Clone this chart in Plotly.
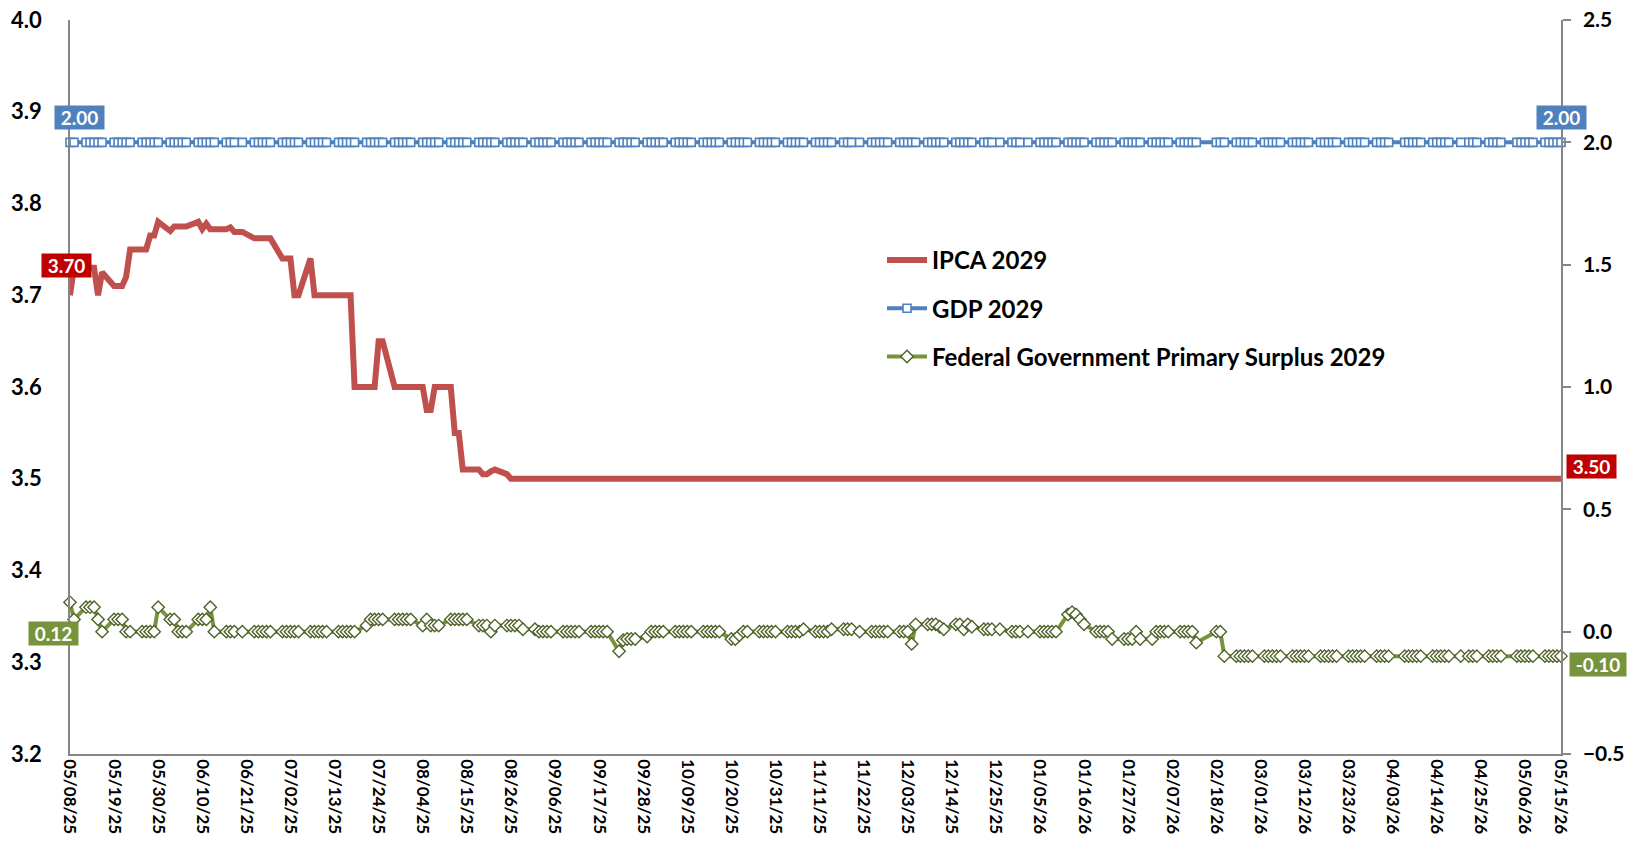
"""Focus 2029: IPCA (left axis), GDP and primary surplus (right axis)."""
import pandas as pd
import plotly.graph_objects as go

# business days of the survey (holidays dropped)
HOLIDAYS = ["2025-06-19", "2025-11-20", "2025-12-25", "2026-01-01",
            "2026-02-16", "2026-02-17", "2026-04-03", "2026-04-21", "2026-05-01"]
dates = pd.bdate_range("2025-05-08", "2026-05-15")
dates = dates[~dates.isin(pd.to_datetime(HOLIDAYS))]

TICK_LABELS = ["05/08/25", "05/19/25", "05/30/25", "06/10/25", "06/21/25", "07/02/25",
               "07/13/25", "07/24/25", "08/04/25", "08/15/25", "08/26/25", "09/06/25",
               "09/17/25", "09/28/25", "10/09/25", "10/20/25", "10/31/25", "11/11/25",
               "11/22/25", "12/03/25", "12/14/25", "12/25/25", "01/05/26", "01/16/26",
               "01/27/26", "02/07/26", "02/18/26", "03/01/26", "03/12/26", "03/23/26",
               "04/03/26", "04/14/26", "04/25/26", "05/06/26", "05/15/26"]

IPCA = [
    3.70, 3.73,                               # 05/08
    3.73, 3.73, 3.73, 3.70, 3.725,            # 05/12
    3.71, 3.71, 3.71, 3.72, 3.75,             # 05/19
    3.75, 3.75, 3.765, 3.765, 3.78,           # 05/26
    3.77, 3.775, 3.775, 3.775, 3.775,         # 06/02
    3.78, 3.772, 3.778, 3.772, 3.772,         # 06/09
    3.772, 3.774, 3.769, 3.769,               # 06/16
    3.762, 3.762, 3.762, 3.762, 3.762,        # 06/23
    3.74, 3.74, 3.74, 3.70, 3.70,             # 06/30
    3.74, 3.70, 3.70, 3.70, 3.70,             # 07/07
    3.70, 3.70, 3.70, 3.70, 3.60,             # 07/14
    3.60, 3.60, 3.60, 3.65, 3.65,             # 07/21
    3.60, 3.60, 3.60, 3.60, 3.60,             # 07/28
    3.60, 3.575, 3.575, 3.60, 3.60,           # 08/04
    3.60, 3.55, 3.55, 3.51, 3.51,             # 08/11
    3.51, 3.505, 3.505, 3.508, 3.51,          # 08/18
    3.505, 3.50, 3.50, 3.50, 3.50,            # 08/25
    3.50, 3.50, 3.50, 3.50, 3.50, 3.50, 3.50, 3.50, 3.50, 3.50,
    3.50, 3.50, 3.50, 3.50, 3.50, 3.50, 3.50, 3.50, 3.50, 3.50,
    3.50, 3.50, 3.50, 3.50, 3.50, 3.50, 3.50, 3.50, 3.50, 3.50,
    3.50, 3.50, 3.50, 3.50, 3.50, 3.50, 3.50, 3.50, 3.50, 3.50,
    3.50, 3.50, 3.50, 3.50, 3.50, 3.50, 3.50, 3.50, 3.50, 3.50,
    3.50, 3.50, 3.50, 3.50, 3.50, 3.50, 3.50, 3.50, 3.50, 3.50,
    3.50, 3.50, 3.50, 3.50, 3.50, 3.50, 3.50, 3.50, 3.50, 3.50,
    3.50, 3.50, 3.50, 3.50, 3.50, 3.50, 3.50, 3.50, 3.50, 3.50,
    3.50, 3.50, 3.50, 3.50, 3.50, 3.50, 3.50, 3.50, 3.50, 3.50,
    3.50, 3.50, 3.50, 3.50, 3.50, 3.50, 3.50, 3.50, 3.50, 3.50,
    3.50, 3.50, 3.50, 3.50, 3.50, 3.50, 3.50, 3.50, 3.50, 3.50,
    3.50, 3.50, 3.50, 3.50, 3.50, 3.50, 3.50, 3.50, 3.50, 3.50,
    3.50, 3.50, 3.50, 3.50, 3.50, 3.50, 3.50, 3.50, 3.50, 3.50,
    3.50, 3.50, 3.50, 3.50, 3.50, 3.50, 3.50, 3.50, 3.50, 3.50,
    3.50, 3.50, 3.50, 3.50, 3.50, 3.50, 3.50, 3.50, 3.50, 3.50,
    3.50, 3.50, 3.50, 3.50, 3.50, 3.50, 3.50, 3.50, 3.50, 3.50,
    3.50, 3.50, 3.50, 3.50, 3.50, 3.50, 3.50, 3.50, 3.50, 3.50,
    3.50, 3.50, 3.50, 3.50, 3.50, 3.50, 3.50,
]

GDP = [
    2.00, 2.00, 2.00, 2.00, 2.00, 2.00, 2.00, 2.00, 2.00, 2.00,
    2.00, 2.00, 2.00, 2.00, 2.00, 2.00, 2.00, 2.00, 2.00, 2.00,
    2.00, 2.00, 2.00, 2.00, 2.00, 2.00, 2.00, 2.00, 2.00, 2.00,
    2.00, 2.00, 2.00, 2.00, 2.00, 2.00, 2.00, 2.00, 2.00, 2.00,
    2.00, 2.00, 2.00, 2.00, 2.00, 2.00, 2.00, 2.00, 2.00, 2.00,
    2.00, 2.00, 2.00, 2.00, 2.00, 2.00, 2.00, 2.00, 2.00, 2.00,
    2.00, 2.00, 2.00, 2.00, 2.00, 2.00, 2.00, 2.00, 2.00, 2.00,
    2.00, 2.00, 2.00, 2.00, 2.00, 2.00, 2.00, 2.00, 2.00, 2.00,
    2.00, 2.00, 2.00, 2.00, 2.00, 2.00, 2.00, 2.00, 2.00, 2.00,
    2.00, 2.00, 2.00, 2.00, 2.00, 2.00, 2.00, 2.00, 2.00, 2.00,
    2.00, 2.00, 2.00, 2.00, 2.00, 2.00, 2.00, 2.00, 2.00, 2.00,
    2.00, 2.00, 2.00, 2.00, 2.00, 2.00, 2.00, 2.00, 2.00, 2.00,
    2.00, 2.00, 2.00, 2.00, 2.00, 2.00, 2.00, 2.00, 2.00, 2.00,
    2.00, 2.00, 2.00, 2.00, 2.00, 2.00, 2.00, 2.00, 2.00, 2.00,
    2.00, 2.00, 2.00, 2.00, 2.00, 2.00, 2.00, 2.00, 2.00, 2.00,
    2.00, 2.00, 2.00, 2.00, 2.00, 2.00, 2.00, 2.00, 2.00, 2.00,
    2.00, 2.00, 2.00, 2.00, 2.00, 2.00, 2.00, 2.00, 2.00, 2.00,
    2.00, 2.00, 2.00, 2.00, 2.00, 2.00, 2.00, 2.00, 2.00, 2.00,
    2.00, 2.00, 2.00, 2.00, 2.00, 2.00, 2.00, 2.00, 2.00, 2.00,
    2.00, 2.00, 2.00, 2.00, 2.00, 2.00, 2.00, 2.00, 2.00, 2.00,
    2.00, 2.00, 2.00, 2.00, 2.00, 2.00, 2.00, 2.00, 2.00, 2.00,
    2.00, 2.00, 2.00, 2.00, 2.00, 2.00, 2.00, 2.00, 2.00, 2.00,
    2.00, 2.00, 2.00, 2.00, 2.00, 2.00, 2.00, 2.00, 2.00, 2.00,
    2.00, 2.00, 2.00, 2.00, 2.00, 2.00, 2.00, 2.00, 2.00, 2.00,
    2.00, 2.00, 2.00, 2.00, 2.00, 2.00, 2.00, 2.00, 2.00, 2.00,
    2.00, 2.00, 2.00, 2.00, 2.00, 2.00, 2.00, 2.00,
]

SURPLUS = [
    0.12, 0.05,                               # 05/08
    0.10, 0.10, 0.10, 0.05, 0.00,             # 05/12
    0.05, 0.05, 0.05, 0.00, 0.00,             # 05/19
    0.00, 0.00, 0.00, 0.00, 0.10,             # 05/26
    0.05, 0.05, 0.00, 0.00, 0.00,             # 06/02
    0.05, 0.05, 0.05, 0.10, 0.00,             # 06/09
    0.00, 0.00, 0.00, 0.00,                   # 06/16
    0.00, 0.00, 0.00, 0.00, 0.00,             # 06/23
    0.00, 0.00, 0.00, 0.00, 0.00,             # 06/30
    0.00, 0.00, 0.00, 0.00, 0.00,             # 07/07
    0.00, 0.00, 0.00, 0.00, 0.00,             # 07/14
    0.025, 0.05, 0.05, 0.05, 0.05,            # 07/21
    0.05, 0.05, 0.05, 0.05, 0.05,             # 07/28
    0.025, 0.05, 0.025, 0.025, 0.025,         # 08/04
    0.05, 0.05, 0.05, 0.05, 0.05,             # 08/11
    0.025, 0.025, 0.025, 0.00, 0.025,         # 08/18
    0.025, 0.025, 0.025, 0.025, 0.01,         # 08/25
    0.01, 0.00, 0.00, 0.00, 0.00,             # 09/01
    0.00, 0.00, 0.00, 0.00, 0.00,             # 09/08
    0.00, 0.00, 0.00, 0.00, 0.00,             # 09/15
    -0.08, -0.035, -0.03, -0.03, -0.03,       # 09/22
    -0.02, 0.00, 0.00, 0.00, 0.00,            # 09/29
    0.00, 0.00, 0.00, 0.00, 0.00,             # 10/06
    0.00, 0.00, 0.00, 0.00, 0.00,             # 10/13
    -0.03, -0.03, -0.015, 0.00, 0.00,         # 10/20
    0.00, 0.00, 0.00, 0.00, 0.00,             # 10/27
    0.00, 0.00, 0.00, 0.00, 0.01,             # 11/03
    0.00, 0.00, 0.00, 0.00, 0.01,             # 11/10
    0.01, 0.01, 0.01, 0.00,                   # 11/17
    0.00, 0.00, 0.00, 0.00, 0.00,             # 11/24
    0.00, 0.00, 0.00, -0.05, 0.03,            # 12/01
    0.03, 0.03, 0.03, 0.02, 0.01,             # 12/08
    0.03, 0.03, 0.01, 0.03, 0.02,             # 12/15
    0.01, 0.01, 0.01, 0.01,                   # 12/22
    0.00, 0.00, 0.00, 0.00,                   # 12/29
    0.00, 0.00, 0.00, 0.00, 0.00,             # 01/05
    0.07, 0.08, 0.07, 0.05, 0.03,             # 01/12
    0.00, 0.00, 0.00, 0.00, -0.03,            # 01/19
    -0.03, -0.03, -0.03, 0.00, -0.03,         # 01/26
    -0.03, 0.00, 0.00, 0.00, 0.00,            # 02/02
    0.00, 0.00, 0.00, 0.00, -0.045,           # 02/09
    0.00, 0.00, -0.10,                        # 02/18
    -0.10, -0.10, -0.10, -0.10, -0.10, -0.10, -0.10, -0.10, -0.10, -0.10,
    -0.10, -0.10, -0.10, -0.10, -0.10, -0.10, -0.10, -0.10, -0.10, -0.10,
    -0.10, -0.10, -0.10, -0.10, -0.10, -0.10, -0.10, -0.10, -0.10, -0.10,
    -0.10, -0.10, -0.10, -0.10, -0.10, -0.10, -0.10, -0.10, -0.10, -0.10,
    -0.10, -0.10, -0.10, -0.10, -0.10, -0.10, -0.10, -0.10, -0.10, -0.10,
    -0.10, -0.10, -0.10, -0.10, -0.10, -0.10, -0.10,
]

assert len(IPCA) == len(GDP) == len(SURPLUS) == len(dates)

RED, RED_BOX = "#C0504D", "#C00000"
BLUE = "#4F81BD"
GREEN, GREEN_DARK = "#77933C", "#4F6228"
AXIS = "#868686"
FONT = "Lato"

tickvals = pd.to_datetime(TICK_LABELS, format="%m/%d/%y")

fig = go.Figure()
fig.add_trace(go.Scatter(
    x=dates, y=IPCA, name="IPCA 2029", mode="lines", legendgroup="a",
    line=dict(color=RED, width=6), cliponaxis=False,
))
fig.add_trace(go.Scatter(
    x=dates, y=GDP, name="GDP 2029", mode="lines+markers", yaxis="y2", legendgroup="b",
    line=dict(color=BLUE, width=4),
    marker=dict(symbol="square", size=8, color="white", line=dict(color=BLUE, width=1.6)),
    cliponaxis=False,
))
fig.add_trace(go.Scatter(
    x=dates, y=SURPLUS, name="Federal Government Primary Surplus 2029",
    mode="lines+markers", yaxis="y2", legendgroup="c",
    line=dict(color=GREEN, width=4),
    marker=dict(symbol="diamond", size=9.5, color="white", line=dict(color=GREEN_DARK, width=1.4)),
    cliponaxis=False,
))


def label(x, y, yref, text, bg, dx, dy, w=49):
    fig.add_annotation(
        x=x, y=y, yref=yref, text=f"<b>{text}</b>", showarrow=False,
        xshift=dx, yshift=dy, bgcolor=bg, width=w, height=23, borderpad=0,
        font=dict(family=FONT, size=19, color="white"),
    )


first, last = dates[0], dates[-1]
label(first, IPCA[0], "y", f"{IPCA[0]:.2f}", RED_BOX, -4, 30)
label(first, GDP[0], "y2", f"{GDP[0]:.2f}", BLUE, 9, 25)
label(first, SURPLUS[0], "y2", f"{SURPLUS[0]:.2f}", GREEN, -17, -31)
label(last, GDP[-1], "y2", f"{GDP[-1]:.2f}", BLUE, 0, 25)
label(last, IPCA[-1], "y", f"{IPCA[-1]:.2f}", RED_BOX, 30, 12)
label(last, SURPLUS[-1], "y2", f"{SURPLUS[-1]:.2f}", GREEN, 37, -8, w=56)

fig.update_layout(
    width=1628, height=846,
    paper_bgcolor="white", plot_bgcolor="white",
    margin=dict(l=70, r=67, t=20, b=92, autoexpand=False),
    font=dict(family=FONT, color="black"),
    xaxis=dict(
        range=[tickvals[0], tickvals[-1]], tickvals=tickvals, ticktext=TICK_LABELS,
        tickangle=90, showgrid=False, zeroline=False, automargin=False,
        showline=True, linecolor=AXIS, linewidth=1.5, ticks="",
        tickfont=dict(family=FONT, size=17, color="black", weight="bold"),
    ),
    yaxis=dict(
        range=[3.2, 4.0], dtick=0.1, tickformat=".1f", showgrid=False, zeroline=False,
        showline=True, linecolor=AXIS, linewidth=1.5, ticks="", ticklabelstandoff=22,
        automargin=False,
        tickfont=dict(family=FONT, size=22, color="black", weight="bold"),
    ),
    yaxis2=dict(
        range=[-0.5, 2.5], dtick=0.5, tickformat=".1f", overlaying="y", side="right",
        showgrid=False, zeroline=False, showline=True, linecolor=AXIS, linewidth=1.5,
        ticks="outside", ticklen=8, tickcolor=AXIS, tickwidth=1.5, automargin=False,
        ticklabelstandoff=8,
        tickfont=dict(family=FONT, size=21, color="black", weight="bold"),
    ),
    showlegend=True,
    legend=dict(
        x=0.5446, y=0.703, xanchor="left", yanchor="top", bgcolor="rgba(0,0,0,0)",
        tracegroupgap=14, itemwidth=40,
        font=dict(family=FONT, size=24, color="black", weight="bold"),
    ),
)

# the page's default 8px body margin would push the fixed-size figure off the window
fig.write_html(
    "out.html",
    config={"displayModeBar": False},
    post_script="document.body.style.margin='0';document.body.style.overflow='hidden';",
)
